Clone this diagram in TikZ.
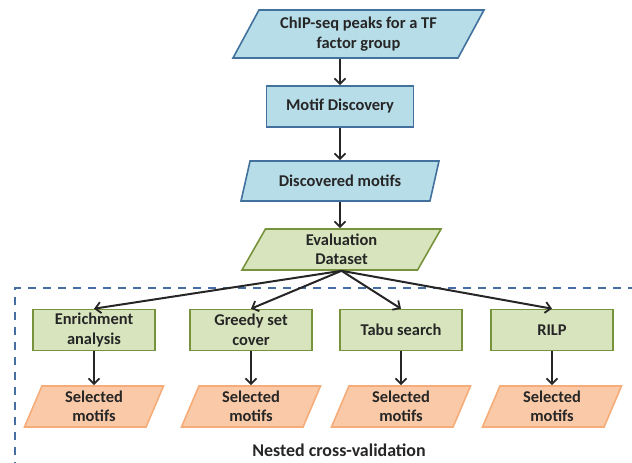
\documentclass[tikz,border=0pt]{standalone}
\usepackage{fontspec}
\setmainfont{Carlito}
\usetikzlibrary{shapes.geometric,arrows.meta}
\definecolor{bfill}{HTML}{B7DDE8}
\definecolor{bdraw}{RGB}{65,113,156}
\definecolor{gfill}{HTML}{D7E4BD}
\definecolor{gdraw}{RGB}{119,147,60}
\definecolor{ofill}{RGB}{250,202,168}
\definecolor{odraw}{RGB}{246,172,120}
\definecolor{dashc}{RGB}{70,110,160}
\tikzset{
  txt/.style={font=\bfseries\fontsize{16.5}{19.5}\selectfont, align=center, inner sep=0pt, text=black!85},
  para/.style={txt, trapezium, trapezium stretches body, line width=1.6bp},
  bluepara/.style={para, fill=bfill, draw=bdraw},
  greenpara/.style={para, fill=gfill, draw=gdraw},
  orangepara/.style={para, fill=ofill, draw=odraw, minimum width=139bp, minimum height=41bp,
     trapezium left angle=60.7, trapezium right angle=119.3},
  bluebox/.style={txt, rectangle, fill=bfill, draw=bdraw, line width=1.6bp},
  greenbox/.style={txt, rectangle, fill=gfill, draw=gdraw, line width=1.6bp, minimum width=122bp, minimum height=41bp},
  arr/.style={line width=2bp, draw=black!85, -{Straight Barb[length=5.5bp,width=11bp,line width=1.8bp]}},
  dashbox/.style={draw=dashc, line width=1.8bp, dash pattern=on 8bp off 7bp}
}
\begin{document}
\begin{tikzpicture}[x=1bp,y=-1bp]
\useasboundingbox (0,0) rectangle (632,463);
\begin{scope}
\clip (0,0) rectangle (632,463);
\draw[dashbox] (15,470) -- (15,288) -- (640,288);
\end{scope}

\node[bluepara, minimum width=251bp, minimum height=48bp, trapezium left angle=52.4, trapezium right angle=127.6] (chip) at (358.5,34) {ChIP-seq peaks for a TF\\factor group};
\node[bluebox, minimum width=147bp, minimum height=41bp] (md) at (340,106.5) {Motif Discovery};
\node[bluepara, minimum width=198bp, minimum height=40bp, trapezium left angle=52.2, trapezium right angle=127.8] (disc) at (340,181) {Discovered motifs};
\node[greenpara, minimum width=199bp, minimum height=41bp, trapezium left angle=53, trapezium right angle=127] (eval) at (341.5,249.5) {Evaluation\\Dataset};

\node[greenbox] (enr) at (94,330) {Enrichment\\analysis};
\node[greenbox] (gsc) at (251,330) {Greedy set\\cover};
\node[greenbox] (tabu) at (401,330) {Tabu search};
\node[greenbox] (rilp) at (552,330) {RILP};

\node[orangepara] (s1) at (94,406.5) {Selected\\motifs};
\node[orangepara] (s2) at (251,406.5) {Selected\\motifs};
\node[orangepara] (s3) at (401,406.5) {Selected\\motifs};
\node[orangepara] (s4) at (552,406.5) {Selected\\motifs};

\node[txt, font=\bfseries\fontsize{18}{21}\selectfont] (ncv) at (339,450) {Nested cross-validation};

\draw[arr] (chip.south -| md.north) -- (md.north);
\draw[arr] (md.south) -- (disc.north -| md.south);
\draw[arr] (disc.south) -- (eval.north -| disc.south);
\draw[arr] (eval.south) -- (enr.north);
\draw[arr] (eval.south) -- (gsc.north);
\draw[arr] (eval.south) -- (tabu.north);
\draw[arr] (eval.south) -- (rilp.north);
\draw[arr] (enr.south) -- (s1.north -| enr.south);
\draw[arr] (gsc.south) -- (s2.north -| gsc.south);
\draw[arr] (tabu.south) -- (s3.north -| tabu.south);
\draw[arr] (rilp.south) -- (s4.north -| rilp.south);
\end{tikzpicture}
\end{document}
